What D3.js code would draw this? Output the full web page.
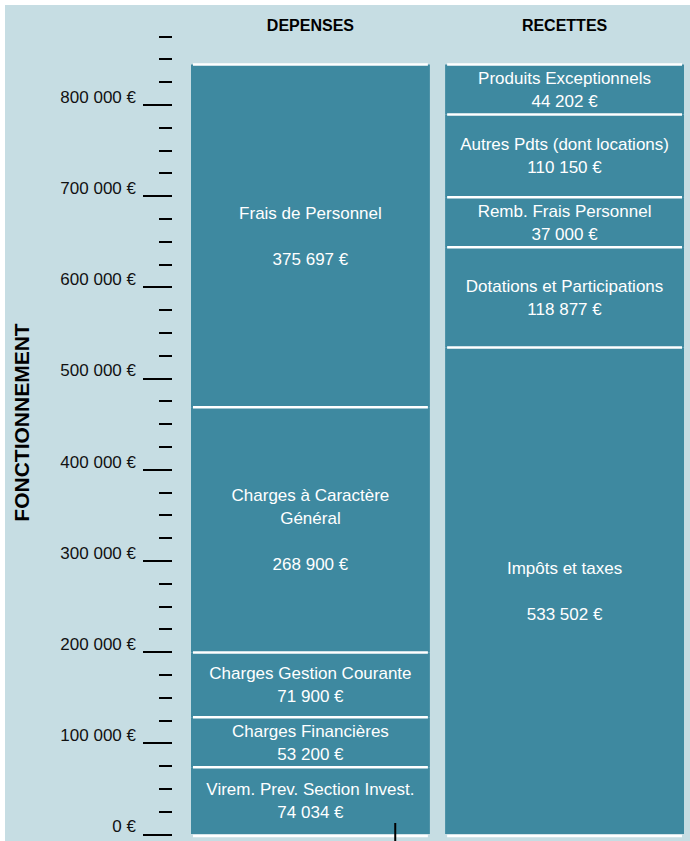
<!DOCTYPE html>
<html>
<head>
<meta charset="utf-8">
<script src="https://cdn.jsdelivr.net/npm/d3@7"></script>
<style>
  body { margin: 0; background: #ffffff; }
  text { font-family: "Liberation Sans", Arial, sans-serif; }
</style>
</head>
<body>
<div class="chart"></div>
<script>
// colonnes et valeurs (bas -> haut)
var columns = ["DEPENSES", "RECETTES"];

var depNames = [
    ["Virem. Prev. Section Invest."],
    ["Charges Financières"],
    ["Charges Gestion Courante"],
    ["Charges à Caractère", "Général", ""],
    ["Frais de Personnel", ""]
];
var depValues = [74034, 53200, 71900, 268900, 375697];

var recNames = [
    ["Impôts et taxes", ""],
    ["Dotations et Participations"],
    ["Remb. Frais Personnel"],
    ["Autres Pdts (dont locations)"],
    ["Produits Exceptionnels"]
];
var recValues = [533502, 118877, 37000, 110150, 44202];

var majorTicks = [0, 100000, 200000, 300000, 400000, 500000, 600000, 700000, 800000];
var minorTicks = d3.range(0, 875001, 25000);
var yTitle = "FONCTIONNEMENT";

var width = 690, height = 841;
var bg = "#c6dde3", barColor = "#3e89a0";

var fmt = d3.formatLocale({decimal: ",", thousands: " ", grouping: [3], currency: ["", ""]}).format(",");
function euro(v) { return fmt(v) + " €"; }

var svg = d3.select(".chart")
    .append("svg")
    .attr("width", width)
    .attr("height", height);

svg.append("rect")
    .attr("x", 5).attr("y", 5)
    .attr("width", width - 5).attr("height", height - 5)
    .attr("fill", bg);

var y = d3.scaleLinear().domain([0, 875000]).range([834, 36]);
var x = d3.scaleBand().domain(columns).range([191, 684]).paddingInner(0.06);

// axes : grands et petits traits
var axisX = 172;
var minorAxis = d3.axisLeft(y).tickValues(minorTicks).tickSize(13).tickFormat("");
var majorAxis = d3.axisLeft(y).tickValues(majorTicks).tickSize(29).tickPadding(7).tickFormat(euro);

[minorAxis, majorAxis].forEach(function(ax) {
    var g = svg.append("g")
        .attr("transform", "translate(" + axisX + ",0)")
        .call(ax);
    g.select(".domain").remove();
    g.selectAll(".tick line")
        .attr("stroke", "#000")
        .attr("stroke-width", 2)
        .attr("shape-rendering", "crispEdges");
    g.selectAll(".tick text")
        .attr("dy", "-0.12em")
        .attr("fill", "#111")
        .style("font-size", "17px")
        .style("font-family", "'Liberation Sans', Arial, sans-serif");
});

// titres des colonnes
svg.selectAll(".colTitle")
    .data(columns)
    .enter().append("text")
    .attr("class", "colTitle")
    .attr("x", function(d) { return x(d) + x.bandwidth() / 2; })
    .attr("y", 31)
    .attr("text-anchor", "middle")
    .style("font-size", "16px")
    .style("font-weight", "bold")
    .attr("fill", "#000")
    .text(function(d) { return d; });

svg.append("text")
    .attr("transform", "translate(29," + (height / 2 + 2) + ") rotate(-90)")
    .attr("text-anchor", "middle")
    .style("font-size", "21px")
    .style("font-weight", "bold")
    .attr("fill", "#000")
    .text(yTitle);

// empilement ; les petits segments gardent une hauteur mini pour l'étiquette
var minH = 50;
function stack(names, values) {
    var h = values.map(function(v) { return y(0) - y(v); });
    values.forEach(function(v, i) {
        var need = minH - h[i];
        if (need <= 0) return;
        var nb = [i - 1, i + 1].filter(function(j) { return j >= 0 && j < values.length; });
        nb.forEach(function(j) { h[j] -= need / nb.length; });
        h[i] = minH;
    });
    var acc = y(0);
    return values.map(function(v, i) {
        var s = {name: names[i], value: v, bottom: acc, top: acc - h[i]};
        acc -= h[i];
        return s;
    });
}

var groups = [
    {col: "DEPENSES", segs: stack(depNames, depValues)},
    {col: "RECETTES", segs: stack(recNames, recValues)}
];

var lineH = 23;

groups.forEach(function(gr) {
    var bx = x(gr.col), bw = x.bandwidth();
    var g = svg.append("g");

    g.selectAll("rect")
        .data(gr.segs)
        .enter().append("rect")
        .attr("x", bx)
        .attr("y", function(d) { return d.top; })
        .attr("width", bw)
        .attr("height", function(d) { return d.bottom - d.top; })
        .attr("fill", barColor);

    // séparateurs blancs
    g.selectAll("line.sep")
        .data(gr.segs)
        .enter().append("line")
        .attr("class", "sep")
        .attr("x1", bx + 2).attr("x2", bx + bw - 2)
        .attr("y1", function(d) { return d.top; })
        .attr("y2", function(d) { return d.top; })
        .attr("stroke", "#fff")
        .attr("stroke-width", 2.5);

    g.append("line")
        .attr("x1", bx + 2).attr("x2", bx + bw - 2)
        .attr("y1", y(0) + 2).attr("y2", y(0) + 2)
        .attr("stroke", "#fff")
        .attr("stroke-width", 2.5);

    // étiquettes
    gr.segs.forEach(function(d) {
        var lines = d.name.concat([euro(d.value)]);
        var mid = (d.bottom + d.top) / 2;
        var start = mid - (lines.length - 1) * lineH / 2;
        var t = g.append("text")
            .attr("text-anchor", "middle")
            .attr("fill", "#fff")
            .style("font-size", "17px");
        lines.forEach(function(l, i) {
            t.append("tspan")
                .attr("x", bx + bw / 2)
                .attr("y", start + i * lineH)
                .attr("dy", "0.35em")
                .text(l);
        });
    });
});

// petit trait noir en bas de la colonne des dépenses
svg.append("line")
    .attr("x1", x("DEPENSES") + x.bandwidth() * 0.855)
    .attr("x2", x("DEPENSES") + x.bandwidth() * 0.855)
    .attr("y1", y(0) - 11).attr("y2", height)
    .attr("stroke", "#000")
    .attr("stroke-width", 2);
</script>
</body>
</html>
